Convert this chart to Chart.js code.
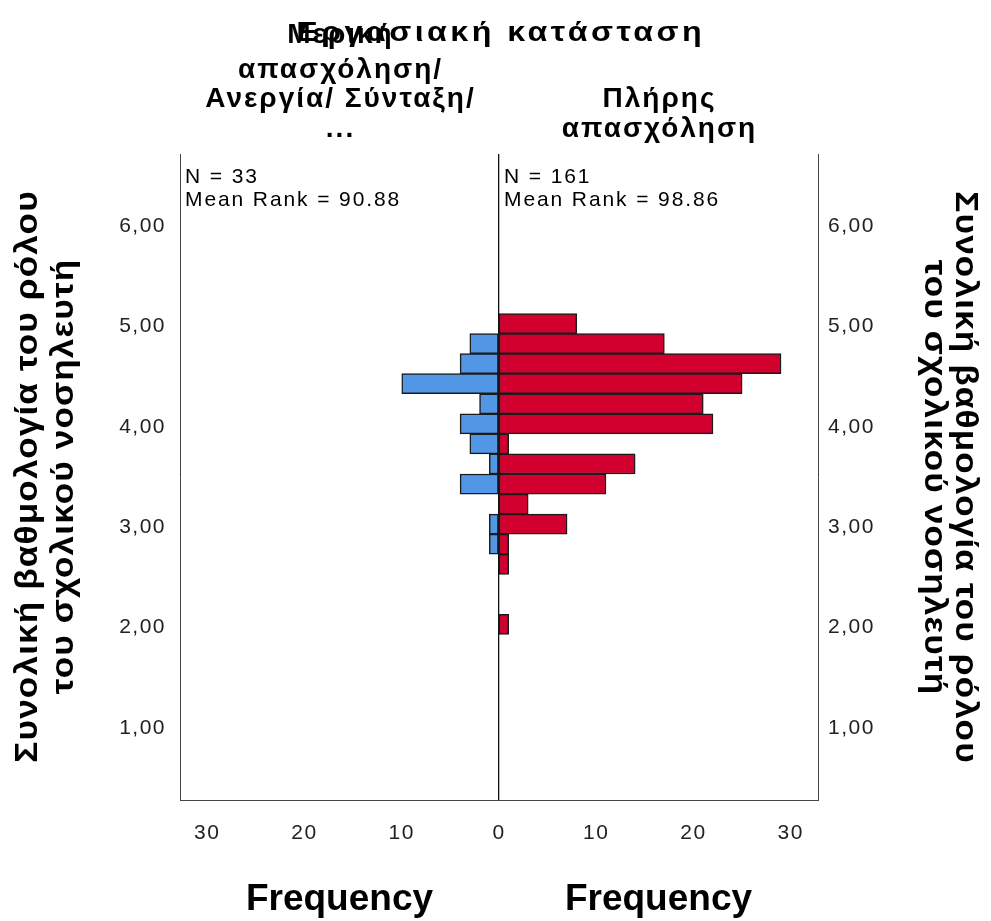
<!DOCTYPE html>
<html lang="el">
<head>
  <meta charset="UTF-8">
  <title>Εργασιακή κατάσταση</title>
  <script src="https://cdn.jsdelivr.net/npm/chart.js@4.4.0/dist/chart.umd.min.js"></script>
  <style>
    html, body { margin: 0; padding: 0; background: #fff; }
    #wrap { width: 991px; height: 921px; }
  </style>
</head>
<body>
  <div id="wrap"><canvas id="pyramid" width="991" height="921"></canvas></div>

  <script>
    // Histogram bins of the total score (bin centres, bins are 0.2 wide)
    const binCentres = [5.03, 4.83, 4.63, 4.43, 4.23, 4.03, 3.83, 3.63, 3.43, 3.23, 3.03, 2.83, 2.63, 2.03];
    // Frequencies per bin for each group
    const partTimeCounts = [0, 3, 4, 10, 2, 4, 3, 1, 4, 0, 1, 1, 0, 0];
    const fullTimeCounts = [8, 17, 29, 25, 21, 22, 1, 14, 11, 3, 7, 1, 1, 1];

    const groupLabels = [
      ['Μερική', 'απασχόληση/', 'Ανεργία/ Σύνταξη/', '...'],
      ['Πλήρης', 'απασχόληση']
    ];
    const groupN = [33, 161];
    const groupMeanRank = ['90.88', '98.86'];

    const yTickValues = [1, 2, 3, 4, 5, 6];
    const yTickLabels = ['1,00', '2,00', '3,00', '4,00', '5,00', '6,00'];
    const xTickValues = [0, 10, 20, 30];
    const xTickLabels = ['0', '10', '20', '30'];

    const chartTitle = 'Εργασιακή κατάσταση';
    const yTitle = ['Συνολική βαθμολογία του ρόλου', 'του σχολικού νοσηλευτή'];
    const xTitle = 'Frequency';

    const FONT = "'Liberation Sans', Arial, sans-serif";
    const yMin = 0.28, yMax = 6.72;
    const freqMax = 32.8;

    // Draw a piece of text, optionally rotated / stretched, with letter spacing
    function putText(ctx, text, x, y, o) {
      const spacing = o.spacing || 0;
      const align = o.align || 'center';
      ctx.save();
      ctx.font = o.font;
      ctx.letterSpacing = spacing + 'px';
      ctx.fillStyle = o.color || '#000';
      ctx.textAlign = align;
      ctx.textBaseline = o.baseline || 'alphabetic';
      ctx.translate(x, y);
      if (o.rotate) ctx.rotate(o.rotate);
      if (o.stretch) ctx.scale(o.stretch, 1);
      ctx.fillText(text, align === 'center' ? spacing / 2 : 0, 0);
      ctx.restore();
    }

    const textPlugin = {
      id: 'spssText',
      beforeDraw(chart) {
        chart.ctx.letterSpacing = '1.5px';
      },
      afterDraw(chart) {
        const ctx = chart.ctx;
        const area = chart.chartArea;
        const xL = chart.scales.xL, xR = chart.scales.xR;
        const midL = (xL.left + xL.right) / 2;
        const midR = (xR.left + xR.right) / 2;
        const midY = (area.top + area.bottom) / 2;

        // group headers (bottom aligned); the first left line runs into the title
        const lineGap = 29.7;
        const lastBase = 137;
        groupLabels.forEach((lines, g) => {
          const cx = g === 0 ? midL : midR;
          lines.forEach((ln, i) => {
            let base = lastBase - (lines.length - 1 - i) * lineGap;
            if (g === 0 && i === 0) base = 43;
            putText(ctx, ln, cx, base, { font: 'bold 28px ' + FONT, spacing: 2 });
          });
        });
        putText(ctx, chartTitle, (area.left + area.right) / 2, 41,
          { font: 'bold 28px ' + FONT, spacing: 3, stretch: 1.15 });

        // N and mean rank inside each panel
        [xL.left, xR.left].forEach((left, g) => {
          const f = { font: '21px ' + FONT, spacing: 1.9, align: 'left' };
          putText(ctx, 'N = ' + groupN[g], left + 5, 183, f);
          putText(ctx, 'Mean Rank = ' + groupMeanRank[g], left + 5, 206, f);
        });

        // y axis titles on both sides
        const tf = { font: 'bold 32px ' + FONT, spacing: 1, stretch: 1.1, baseline: 'middle' };
        putText(ctx, yTitle[0], 28, midY, { ...tf, rotate: -Math.PI / 2 });
        putText(ctx, yTitle[1], 64, midY, { ...tf, rotate: -Math.PI / 2 });
        putText(ctx, yTitle[0], 965, midY, { ...tf, rotate: Math.PI / 2 });
        putText(ctx, yTitle[1], 934, midY, { ...tf, rotate: Math.PI / 2 });

        // x axis titles
        putText(ctx, xTitle, midL, 910, { font: 'bold 37px ' + FONT });
        putText(ctx, xTitle, midR, 910, { font: 'bold 37px ' + FONT });
      }
    };

    function barData(counts) {
      return binCentres.map((c, i) => ({ x: counts[i], y: c }));
    }

    const tickFont = { family: FONT, size: 21 };

    function yAxis(position) {
      return {
        type: 'linear',
        position: position,
        offset: false,
        min: yMin,
        max: yMax,
        afterBuildTicks: s => { s.ticks = yTickValues.map(v => ({ value: v })); },
        afterFit: s => { s.width = 70; },
        grid: { display: false, drawTicks: false, offset: false },
        border: { color: '#444', width: 1 },
        ticks: {
          padding: position === 'left' ? 14 : 10,
          color: '#222',
          font: tickFont,
          callback: v => yTickLabels[yTickValues.indexOf(v)]
        }
      };
    }

    function xAxis(isLeft) {
      return {
        type: 'linear',
        position: 'bottom',
        stack: 'freq',
        stacked: false,
        offset: false,
        reverse: isLeft,
        min: 0,
        max: freqMax,
        afterBuildTicks: s => { s.ticks = xTickValues.map(v => ({ value: v })); },
        afterFit: s => { s.height = 50; },
        grid: isLeft ? {
          display: true,
          drawOnChartArea: true,
          drawTicks: false,
          lineWidth: 1.3,
          color: c => (c.tick && c.tick.value === 0) ? '#111' : 'rgba(0,0,0,0)'
        } : { display: false, drawTicks: false },
        border: { color: '#444', width: 1 },
        ticks: {
          padding: 21,
          color: '#222',
          font: tickFont,
          callback: v => (!isLeft && v === 0) ? '' : xTickLabels[xTickValues.indexOf(v)]
        }
      };
    }

    const ctx = document.getElementById('pyramid').getContext('2d');
    new Chart(ctx, {
      type: 'bar',
      data: {
        datasets: [
          {
            label: groupLabels[0].join(' '),
            data: barData(partTimeCounts),
            xAxisID: 'xL',
            yAxisID: 'yL',
            stack: 'pyr',
            backgroundColor: '#5197E5',
            borderColor: '#1b1b1b',
            borderWidth: 1.5,
            borderSkipped: false,
            categoryPercentage: 1,
            barPercentage: 1
          },
          {
            label: groupLabels[1].join(' '),
            data: barData(fullTimeCounts),
            xAxisID: 'xR',
            yAxisID: 'yL',
            stack: 'pyr',
            backgroundColor: '#D1002F',
            borderColor: '#1b1b1b',
            borderWidth: 1.5,
            borderSkipped: false,
            categoryPercentage: 1,
            barPercentage: 1
          }
        ]
      },
      options: {
        responsive: false,
        animation: false,
        indexAxis: 'y',
        layout: { padding: { left: 110, right: 103, top: 154, bottom: 71 } },
        plugins: {
          legend: { display: false },
          tooltip: { enabled: false },
          title: { display: false }
        },
        scales: {
          yL: yAxis('left'),
          yR: yAxis('right'),
          xL: xAxis(true),
          xR: xAxis(false)
        }
      },
      plugins: [textPlugin]
    });
  </script>
</body>
</html>
